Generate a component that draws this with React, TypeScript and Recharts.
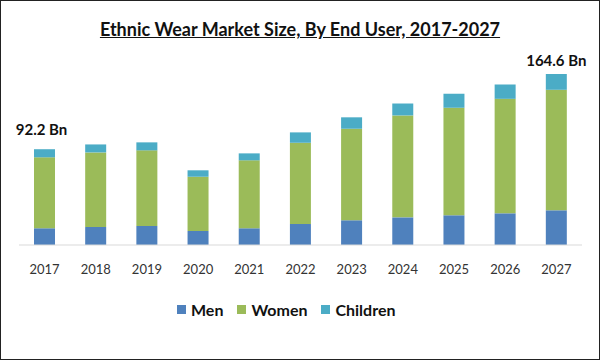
import React from "react";
import { BarChart, Bar, XAxis, YAxis, LabelList } from "recharts";

const years = ["2017", "2018", "2019", "2020", "2021", "2022", "2023", "2024", "2025", "2026", "2027"];
const men = [16.1, 17.3, 18.3, 13.5, 16.1, 20.2, 23.8, 26.6, 28.6, 30.5, 33.4];
const women = [68.3, 71.8, 72.8, 52.2, 65.4, 78.2, 88.1, 98.1, 103.5, 110.2, 116.0];
const children = [7.8, 7.7, 7.7, 6.2, 6.7, 10.0, 11.0, 11.5, 13.5, 13.8, 15.2];
const totalLabels = ["92.2 Bn", "", "", "", "", "", "", "", "", "", "164.6 Bn"];

const seriesNames = ["Men", "Women", "Children"];
const colors = ["#4F81BD", "#9BBB59", "#4BACC6"];

const data = years.map((y, i) => ({
  year: y,
  men: men[i],
  women: women[i],
  children: children[i],
  label: totalLabels[i],
}));

const FONT = "Lato, 'Open Sans', sans-serif";

const TotalLabel = (props: any) => {
  const { x, y, width, value, index } = props;
  if (!value) return null;
  const first = index === 0;
  return (
    <text
      x={x + width / 2 + (first ? -3 : 0)}
      y={y - (first ? 18 : 12)}
      textAnchor="middle"
      dominantBaseline="middle"
      fontFamily={FONT}
      fontWeight={700}
      fontSize={15}
      fill="#111"
    >
      {value}
    </text>
  );
};

const LegendBlock = () => (
  <div
    style={{
      position: "absolute",
      top: 298,
      left: 176,
      height: 20,
      display: "flex",
      justifyContent: "flex-start",
      alignItems: "center",
      fontFamily: FONT,
      fontWeight: 700,
      fontSize: 16,
      color: "#111",
    }}
  >
    {seriesNames.map((n, i) => (
      <div key={n} style={{ display: "flex", alignItems: "center", marginRight: i < 2 ? 14 : 0 }}>
        <span style={{ width: 9, height: 9, background: colors[i], display: "inline-block", marginRight: 5 }} />
        <span>{n}</span>
      </div>
    ))}
  </div>
);

export default function App() {
  return (
    <div
      style={{
        position: "fixed",
        left: 0,
        top: 0,
        width: 600,
        height: 360,
        boxSizing: "border-box",
        border: "1px solid #222",
        background: "#fff",
        overflow: "hidden",
      }}
    >
      <div
        style={{
          position: "absolute",
          top: 16,
          left: 0,
          width: 598,
          textAlign: "center",
          fontFamily: FONT,
          fontWeight: 700,
          fontSize: 18,
          color: "#111",
          textDecoration: "underline",
          lineHeight: "24px",
        }}
      >
        Ethnic Wear Market Size, By End User, 2017-2027
      </div>
      <div style={{ position: "absolute", left: -1, top: -1 }}>
        <BarChart
          width={600}
          height={360}
          data={data}
          margin={{ top: 58, right: 18, left: 19, bottom: 85 }}
        >
          <XAxis
            dataKey="year"
            axisLine={{ stroke: "#D9D9D9" }}
            tickLine={false}
            height={30}
            tick={{ fill: "#333", fontSize: 13, fontFamily: FONT }}
            tickMargin={14}
          />
          <YAxis hide domain={[0, 180]} />
          <Bar dataKey="men" name="Men" stackId="a" fill={colors[0]} barSize={21} isAnimationActive={false} />
          <Bar dataKey="women" name="Women" stackId="a" fill={colors[1]} barSize={21} isAnimationActive={false} />
          <Bar dataKey="children" name="Children" stackId="a" fill={colors[2]} barSize={21} isAnimationActive={false}>
            <LabelList dataKey="label" content={<TotalLabel />} />
          </Bar>
        </BarChart>
      </div>
      <LegendBlock />
    </div>
  );
}
